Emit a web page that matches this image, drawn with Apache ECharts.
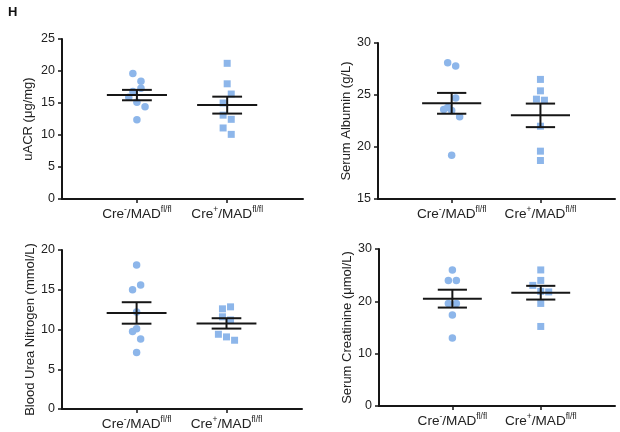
<!DOCTYPE html>
<html><head><meta charset="utf-8">
<script src="https://cdn.jsdelivr.net/npm/echarts@6/dist/echarts.min.js"></script>
<style>html,body{margin:0;padding:0;background:#fff}#c{width:620px;height:432px}</style>
</head><body><div id="c"></div>
<script>
// ---- categories / labels ----
const categoryBase = ['Cre', 'Cre'];
const categorySign = ['-', '+'];
const categoryTail = ['/MAD', '/MAD'];
const categorySup = ['fl/fl', 'fl/fl'];
const yTitles = ['uACR (μg/mg)', 'Serum Albumin (g/L)', 'Blood Urea Nitrogen (mmol/L)', 'Serum Creatinine (μmol/L)'];
const panelLetter = 'H';

// ---- values ----
const uacrCreNeg = [19.6, 18.4, 17.3, 16.8, 15.9, 15.1, 14.4, 12.4];
const uacrCrePos = [21.2, 18.0, 16.4, 15.0, 13.1, 12.45, 11.1, 10.1];
const albuminCreNeg = [28.1, 27.8, 24.7, 23.6, 23.8, 23.5, 22.9, 19.2];
const albuminCrePos = [26.5, 25.4, 24.6, 24.5, 22.0, 19.6, 18.7];
const bunCreNeg = [18.1, 15.6, 15.0, 12.2, 10.1, 9.75, 8.8, 7.1];
const bunCrePos = [12.6, 12.85, 11.6, 11.2, 9.4, 9.07, 8.65];
const creatCreNeg = [26.0, 24.0, 24.0, 19.6, 19.6, 17.4, 13.0];
const creatCrePos = [26.0, 24.0, 23.05, 21.9, 21.8, 19.6, 15.2];

// dot arrangement slots (scatter-dot spreading, in dot widths)
const uacrNegSlot = [-1, 1, 1, -1, -2, 0, 2, 0];
const uacrPosSlot = [0, 0, 1, -1, -1, 1, -1, 1];
const albNegSlot = [-1, 1, 1, -2, -1, 0, 2, 0];
const albPosSlot = [0, 0, -1, 1, 0, 0, 0];
const bunNegSlot = [0, 1, -1, 0, 0, -1, 1, 0];
const bunPosSlot = [-1, 1, -1, 1, -2, 0, 2];
const creNegSlot = [0, -1, 1, -1, 1, 0, 0];
const crePosSlot = [0, 0, -2, 0, 2, 0, 0];

// y-axis ticks: [min, max, interval]
const uacrTicks = [0, 25, 5];
const albTicks = [15, 30, 5];
const bunTicks = [0, 20, 5];
const creTicks = [0, 30, 10];

// ---- styling / layout ----
const FONT = '"Liberation Sans", Arial, Helvetica, sans-serif';
const DOT = '#8DB6EA';
const INK = '#161616';
const STEP = 0.045;
const grids = [
  {left: 62, top: 39, width: 241, height: 160},
  {left: 378, top: 43, width: 237, height: 156},
  {left: 62, top: 250, width: 240, height: 159},
  {left: 379, top: 249, width: 236, height: 157}
];
const nameGaps = [27, 25, 25, 25];

const panels = [
  {neg: uacrCreNeg, pos: uacrCrePos, sn: uacrNegSlot, sp: uacrPosSlot, t: uacrTicks},
  {neg: albuminCreNeg, pos: albuminCrePos, sn: albNegSlot, sp: albPosSlot, t: albTicks},
  {neg: bunCreNeg, pos: bunCrePos, sn: bunNegSlot, sp: bunPosSlot, t: bunTicks},
  {neg: creatCreNeg, pos: creatCrePos, sn: creNegSlot, sp: crePosSlot, t: creTicks}
];

function mean(a){ return a.reduce((s, v) => s + v, 0) / a.length; }
function sem(a){
  const m = mean(a);
  const v = a.reduce((s, x) => s + (x - m) * (x - m), 0) / (a.length - 1);
  return Math.sqrt(v / a.length);
}

function catLabel(v){
  const i = Math.round(v) - 1;
  if (i < 0 || i > 1) return '';
  return '{n|' + categoryBase[i] + '}{s|' + categorySign[i] + '}{n|' + categoryTail[i] + '}{s|' + categorySup[i] + '}';
}

const xAxes = [], yAxes = [], series = [];
panels.forEach((p, i) => {
  xAxes.push({
    type: 'value', gridIndex: i, min: 0.17, max: 2.84,
    splitLine: {show: false},
    axisLine: {show: true, onZero: false, lineStyle: {color: INK, width: 2}},
    axisTick: {show: true, customValues: [1, 2], length: 4, lineStyle: {color: INK, width: 1.5}},
    axisLabel: {
      customValues: [1, 2], margin: 6, formatter: catLabel,
      rich: {
        n: {fontFamily: FONT, fontSize: 13.6, color: '#222', lineHeight: 16, verticalAlign: 'bottom'},
        s: {fontFamily: FONT, fontSize: 8.5, color: '#222', lineHeight: 16, verticalAlign: 'top'}
      }
    }
  });
  yAxes.push({
    type: 'value', gridIndex: i, min: p.t[0], max: p.t[1], interval: p.t[2],
    name: yTitles[i], nameLocation: 'middle', nameGap: nameGaps[i], nameRotate: 90,
    nameTextStyle: {fontFamily: FONT, fontSize: 13, color: '#222'},
    splitLine: {show: false},
    axisLine: {show: true, onZero: false, lineStyle: {color: INK, width: 2}},
    axisTick: {show: true, length: 4, lineStyle: {color: INK, width: 1.5}},
    axisLabel: {fontFamily: FONT, fontSize: 12.5, color: '#222', margin: 7}
  });
  series.push({
    type: 'scatter', xAxisIndex: i, yAxisIndex: i, symbol: 'circle', symbolSize: 7.5,
    itemStyle: {color: DOT, opacity: 1}, z: 2, silent: true,
    data: p.neg.map((v, k) => [1 + p.sn[k] * STEP, v])
  });
  series.push({
    type: 'scatter', xAxisIndex: i, yAxisIndex: i, symbol: 'rect', symbolSize: 7,
    itemStyle: {color: DOT, opacity: 1}, z: 2, silent: true,
    data: p.pos.map((v, k) => [2 + p.sp[k] * STEP, v])
  });
  series.push({
    type: 'custom', xAxisIndex: i, yAxisIndex: i, z: 5, silent: true,
    data: [[1, mean(p.neg), sem(p.neg)], [2, mean(p.pos), sem(p.pos)]],
    renderItem: function(params, api){
      const x = api.value(0), m = api.value(1), s = api.value(2);
      const W = 0.333, C = 0.165;
      const a = api.coord([x - W, m]), b = api.coord([x + W, m]);
      const t1 = api.coord([x - C, m + s]), t2 = api.coord([x + C, m + s]);
      const b1 = api.coord([x - C, m - s]), b2 = api.coord([x + C, m - s]);
      const st = {stroke: INK, lineWidth: 2};
      return {type: 'group', children: [
        {type: 'line', shape: {x1: a[0], y1: a[1], x2: b[0], y2: b[1]}, style: st},
        {type: 'line', shape: {x1: t1[0], y1: t1[1], x2: t2[0], y2: t2[1]}, style: st},
        {type: 'line', shape: {x1: b1[0], y1: b1[1], x2: b2[0], y2: b2[1]}, style: st},
        {type: 'line', shape: {x1: (t1[0] + t2[0]) / 2, y1: t1[1], x2: (b1[0] + b2[0]) / 2, y2: b1[1]}, style: st}
      ]};
    }
  });
});

const chart = echarts.init(document.getElementById('c'), null, {renderer: 'canvas'});
chart.setOption({
  backgroundColor: '#fff',
  animation: false,
  title: {text: panelLetter, left: 3, top: 1, textStyle: {fontFamily: FONT, fontSize: 13, fontWeight: 'bold', color: '#111'}},
  grid: grids,
  xAxis: xAxes,
  yAxis: yAxes,
  series: series
});
</script></body></html>
